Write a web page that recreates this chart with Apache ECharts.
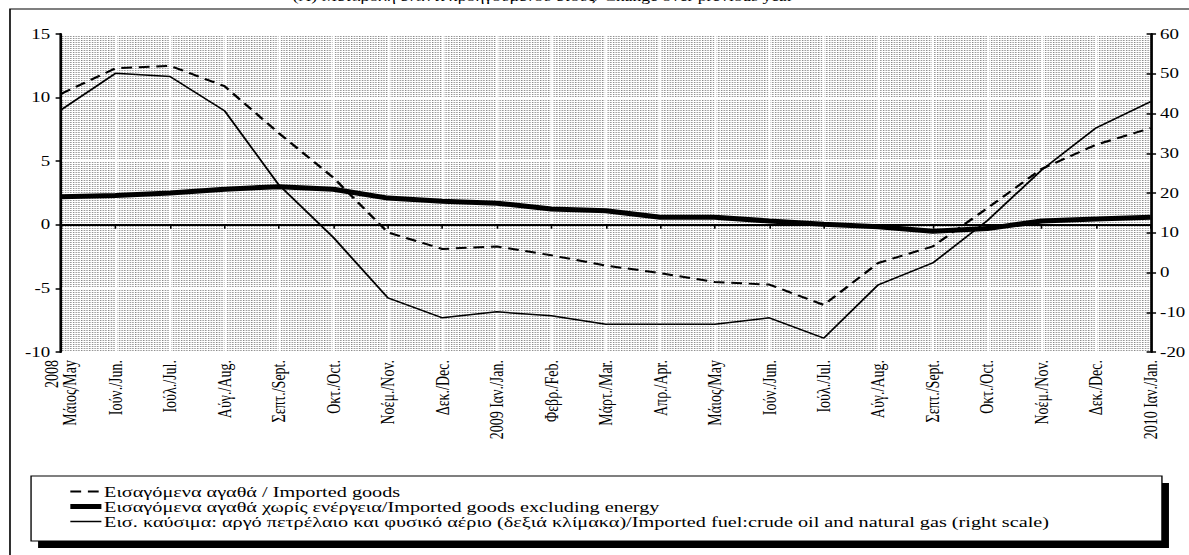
<!DOCTYPE html>
<html><head><meta charset="utf-8">
<script src="https://cdn.jsdelivr.net/npm/echarts@6/dist/echarts.min.js"></script>
<style>
html,body{margin:0;padding:0;background:#fff;overflow:hidden}
#wrap{width:1189px;height:555px;overflow:hidden;position:relative;background:#fff}
#chart{width:881px;height:555px;transform:scaleX(1.35);transform-origin:0 0}
</style></head><body><div id="wrap"><div id="chart"></div></div>
<script>
// Categories (months, May 2008 – Jan 2010)
const categories = ['2008\nΜάιος/May','Ιούν./Jun.','Ιούλ./Jul.','Αύγ./Aug.','Σεπτ./Sept.','Οκτ./Oct.','Νοέμ./Nov.','Δεκ./Dec.','2009 Ιαν./Jan.','Φεβρ./Feb.','Μάρτ./Mar.','Απρ./Apr.','Μάιος/May','Ιούν./Jun.','Ιούλ./Jul.','Αύγ./Aug.','Σεπτ./Sept.','Οκτ./Oct.','Νοέμ./Nov.','Δεκ./Dec.','2010 Ιαν./Jan.'];
// Left scale
const importedGoods = [10.3,12.3,12.5,10.9,7.2,3.7,-0.6,-1.9,-1.7,-2.4,-3.2,-3.8,-4.5,-4.7,-6.3,-3.0,-1.7,1.3,4.4,6.3,7.6];
const importedExEnergy = [2.2,2.3,2.5,2.8,3.0,2.8,2.1,1.85,1.7,1.25,1.1,0.6,0.6,0.3,0.05,-0.15,-0.5,-0.3,0.3,0.45,0.6];
// Right scale
const importedFuel = [40.9,50.1,49.3,40.7,22.0,8.8,-6.4,-11.4,-9.9,-10.9,-13.0,-13.0,-13.0,-11.4,-16.5,-3.1,2.4,13.0,25.8,36.4,43.0];
const seriesNames = ['Εισαγόμενα αγαθά / Imported goods','Εισαγόμενα αγαθά χωρίς ενέργεια/Imported goods excluding energy','Εισ. καύσιμα: αργό πετρέλαιο και φυσικό αέριο (δεξιά κλίμακα)/Imported fuel:crude oil and natural gas (right scale)'];
const titleText = '(Α) Μεταβολή έναντι προηγούμενου έτους/ Change over previous year';

const FONT = "'Liberation Serif','Times New Roman',serif";

// dotted background pattern
const tile = document.createElement('canvas');
tile.width = 2; tile.height = 2;
const tc = tile.getContext('2d');
tc.fillStyle = '#ffffff'; tc.fillRect(0,0,2,2);
tc.fillStyle = '#858585';
tc.fillRect(0,0,1,1);

const chart = echarts.init(document.getElementById('chart'), null, {renderer:'svg'});
chart.setOption({
  animation:false,
  backgroundColor:'transparent',
  grid:{left:45.2, right:26.9, top:34, height:318, show:true, borderWidth:0,
        backgroundColor:{image:tile, repeat:'repeat', imageWidth:2, imageHeight:2}},
  xAxis:[
    {type:'category', data:categories, boundaryGap:false, position:'bottom',
     axisLine:{show:false, onZero:false}, axisTick:{show:false},
     axisLabel:{rotate:90, fontSize:14, fontFamily:FONT, color:'#000', margin:8, interval:0, lineHeight:13},
     splitLine:{show:true, lineStyle:{color:'#ffffff', width:1.5}}},
    {type:'category', data:categories, boundaryGap:false, position:'bottom',
     axisLine:{show:true, onZero:true, onZeroAxisIndex:0, lineStyle:{color:'#000', width:2}},
     axisTick:{show:true, length:4, interval:0, lineStyle:{color:'#000', width:1.2}},
     axisLabel:{show:false}, splitLine:{show:false}}
  ],
  yAxis:[
    {type:'value', min:-10, max:15, interval:5, position:'left',
     axisLine:{show:true, lineStyle:{color:'#000', width:2}},
     axisTick:{show:true, length:4, lineStyle:{color:'#000', width:1.5}},
     axisLabel:{fontSize:14, fontFamily:FONT, color:'#000', margin:8},
     splitLine:{show:true, lineStyle:{color:'#ffffff', width:2}}},
    {type:'value', min:-20, max:60, interval:10, position:'right',
     axisLine:{show:true, lineStyle:{color:'#000', width:2}},
     axisTick:{show:true, length:4, lineStyle:{color:'#000', width:1.5}},
     axisLabel:{fontSize:14, fontFamily:FONT, color:'#000', margin:7},
     splitLine:{show:false}},
    {type:'value', min:-20, max:60, interval:10, position:'right',
     axisLine:{show:false}, axisLabel:{show:false}, splitLine:{show:false},
     axisTick:{show:true, inside:true, length:3, lineStyle:{color:'#000', width:1.5}}}
  ],
  legend:{orient:'vertical', left:49.6, top:484, itemWidth:23, itemHeight:14, itemGap:0,
          padding:0, itemStyle:{opacity:0}, lineStyle:{width:'inherit', type:'inherit'},
          textStyle:{fontSize:15, fontFamily:FONT, color:'#000', padding:[0,0,0,-3]}, z:10},
  graphic:[
    {type:'rect', z:0, shape:{x:7.4, y:9, width:1000, height:1000},
     style:{fill:'none', stroke:'#000', lineWidth:1.2}},
    {type:'text', z:1, x:402, y:2.5, style:{text:titleText, font:"13px 'Liberation Serif',serif", fill:'#000', textAlign:'center', textVerticalAlign:'bottom'}},
    {type:'rect', z:1, shape:{x:28.2, y:483, width:837.7, height:65}, style:{fill:'#000'}},
    {type:'rect', z:2, shape:{x:23, y:476, width:837.7, height:65}, style:{fill:'#fff', stroke:'#000', lineWidth:1}}
  ],
  series:[
    {name:seriesNames[0], type:'line', data:importedGoods, xAxisIndex:0, yAxisIndex:0,
     symbol:'none', lineStyle:{color:'#000', width:2, type:[8,5]}, itemStyle:{color:'#000'}, z:3},
    {name:seriesNames[1], type:'line', data:importedExEnergy, xAxisIndex:0, yAxisIndex:0,
     symbol:'none', lineStyle:{color:'#000', width:5}, itemStyle:{color:'#000'}, z:4},
    {name:seriesNames[2], type:'line', data:importedFuel, xAxisIndex:0, yAxisIndex:1,
     symbol:'none', lineStyle:{color:'#000', width:1.5}, itemStyle:{color:'#000'}, z:3}
  ]
});
</script></body></html>
